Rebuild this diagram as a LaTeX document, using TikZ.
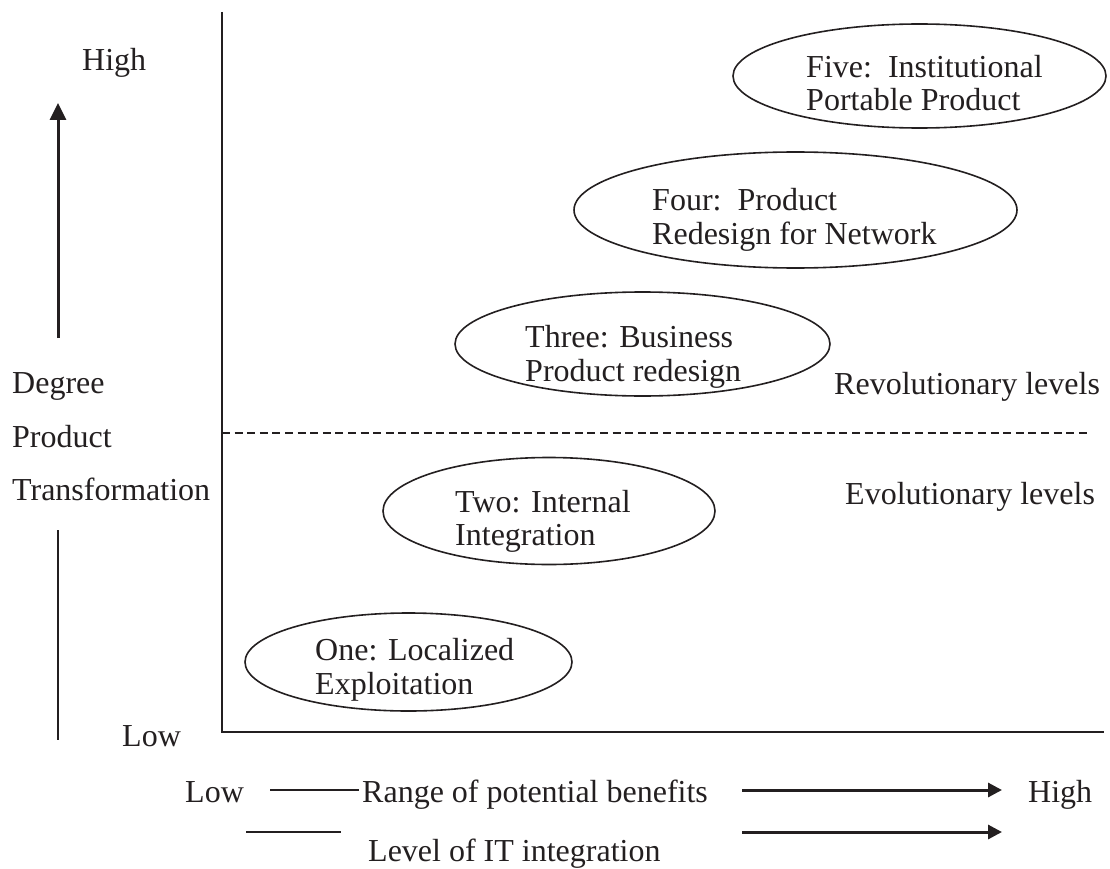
\documentclass[tikz,border=0pt]{standalone}
\usepackage{fontspec}
\setmainfont{Liberation Serif}
\usetikzlibrary{shapes.geometric,arrows.meta}
\definecolor{ink}{RGB}{35,31,32}
\begin{document}
\begin{tikzpicture}[x=1pt,y=-1pt,
  txt/.style={inner sep=0pt,anchor=base west,font=\fontsize{32}{37}\selectfont,text=ink},
  lvl/.style={ellipse,draw=ink,line width=1.6pt,inner sep=0pt},
  axis/.style={draw=ink,line width=2.5pt},
  thickarrow/.style={draw=ink,line width=3pt,-{Triangle[length=14pt,width=14pt]}},
  thinline/.style={draw=ink,line width=2pt}]
\useasboundingbox (0,0) rectangle (1110,869);

% axes
\coordinate (ytop) at (222,12);
\coordinate (orig) at (222,732);
\coordinate (xend) at (1104,732);
\draw[axis] (ytop) -- (orig) -- (xend);
\coordinate (dl) at (222,433);
\coordinate (dr) at (1090,433);
\draw[draw=ink,line width=2.5pt,dash pattern=on 8pt off 4.6pt] (dl) -- (dr);

% ellipses
\node[lvl,minimum width=373pt,minimum height=104pt] (e5) at (919.5,76) {};
\node[lvl,minimum width=443pt,minimum height=116pt] (e4) at (795.5,210) {};
\node[lvl,minimum width=375pt,minimum height=104pt] (e3) at (642.5,344) {};
\node[lvl,minimum width=332pt,minimum height=107pt] (e2) at (549,511) {};
\node[lvl,minimum width=327pt,minimum height=98pt] (e1) at (408.5,662) {};

\node[txt] (t5a) at (806,78) {Five:\ \ Institutional};
\node[txt] (t5b) at (806,111) {Portable Product};
\node[txt] (t4a) at (652,210) {Four:\ \ Product};
\node[txt] (t4b) at (652,244) {Redesign for Network};
\node[txt] (t3a) at (525,347) {Three: Business};
\node[txt] (t3b) at (525,381) {Product redesign};
\node[txt] (t2a) at (455,512) {Two: Internal};
\node[txt] (t2b) at (455,545) {Integration};
\node[txt] (t1a) at (315,660) {One: Localized};
\node[txt] (t1b) at (315,694) {Exploitation};

\node[txt] (rev) at (834,394) {Revolutionary levels};
\node[txt] (evo) at (845,504) {Evolutionary levels};

% left side
\node[txt] (high) at (82,71) {High};
\node[txt] (deg) at (12,393) {Degree};
\node[txt] (prod) at (12,447) {Product};
\node[txt] (trans) at (12,500) {Transformation};
\node[txt] (lowy) at (122,746) {Low};
\coordinate (ua0) at (58,338);
\coordinate (ua1) at (58,103);
\draw[draw=ink,line width=3pt,-{Triangle[length=17pt,width=16pt]}] (ua0) -- (ua1);
\coordinate (ul0) at (58,530);
\coordinate (ul1) at (58,740);
\draw[thinline] (ul0) -- (ul1);

% bottom
\node[txt] (lowx) at (185,802) {Low};
\coordinate (r0) at (270,790);
\coordinate (r1) at (359,790);
\draw[thinline] (r0) -- (r1);
\node[txt] (range) at (362,802) {Range of potential benefits};
\coordinate (ra0) at (742,790);
\coordinate (ra1) at (1002,790);
\draw[thickarrow] (ra0) -- (ra1);
\node[txt] (highx) at (1028,802) {High};
\coordinate (l0) at (246,832);
\coordinate (l1) at (341,832);
\draw[thinline] (l0) -- (l1);
\coordinate (la0) at (742,832);
\coordinate (la1) at (1002,832);
\draw[thickarrow] (la0) -- (la1);
\node[txt] (level) at (368,861) {Level of IT integration};
\end{tikzpicture}
\end{document}
